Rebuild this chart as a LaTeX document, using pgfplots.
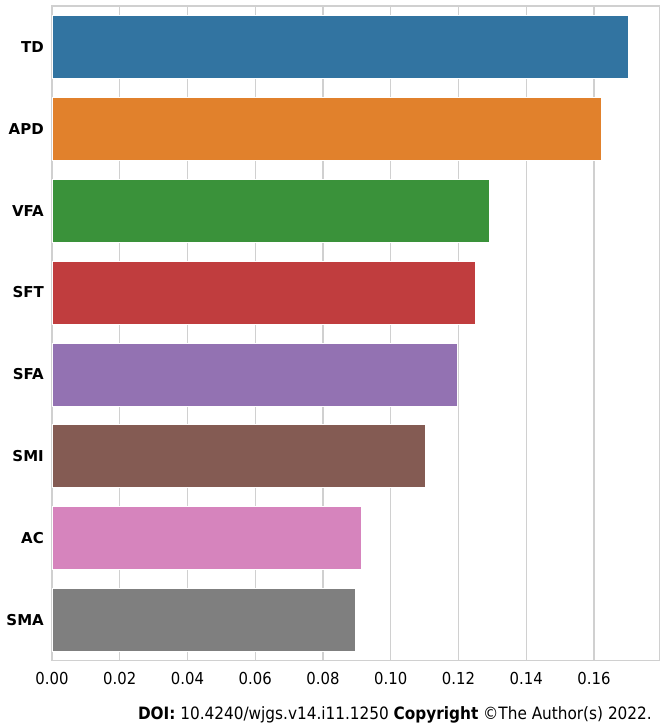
\documentclass[border=0pt]{standalone}
\usepackage{pgfplots}
\pgfplotsset{compat=1.18}
\usepackage{fontspec}
\setmainfont{DejaVu Sans Condensed}
\newfontfamily\labfont{DejaVu Sans}
\definecolor{cTD}{HTML}{3274A1}
\definecolor{cAPD}{HTML}{E1812C}
\definecolor{cVFA}{HTML}{3A923A}
\definecolor{cSFT}{HTML}{C03D3E}
\definecolor{cSFA}{HTML}{9372B2}
\definecolor{cSMI}{HTML}{845B53}
\definecolor{cAC}{HTML}{D684BD}
\definecolor{cSMA}{HTML}{7F7F7F}
\definecolor{gridc}{HTML}{D0D0D0}
\begin{document}
\begin{tikzpicture}
\begin{axis}[
  at={(0pt,0pt)}, anchor=south west,
  scale only axis,
  width=607.3pt, height=654.7pt,
  xbar, bar width=0.77, bar shift=0pt,
  xmin=0, xmax=0.1793,
  ymin=-0.5, ymax=7.5, y dir=reverse,
  ytick={0,1,2,3,4,5,6,7},
  yticklabels={TD,APD,VFA,SFT,SFA,SMI,AC,SMA},
  xtick={0,0.02,0.04,0.06,0.08,0.10,0.12,0.14,0.16},
  xticklabel style={/pgf/number format/fixed,/pgf/number format/fixed zerofill,/pgf/number format/precision=2,
     font=\fontsize{16.5}{19}\selectfont, inner sep=0pt, yshift=-11.6pt},
  /pgf/number format/assume math mode=true,
  yticklabel style={font=\labfont\fontsize{15}{18}\selectfont\bfseries, inner sep=0pt, xshift=-8pt},
  major tick length=0pt,
  xmajorgrids, ymajorgrids=false,
  grid style={gridc, line width=1.3pt},
  axis line style={gridc, line width=1.3pt},
  clip=false,
]
\addplot[fill=cTD, draw=white, line width=0.5pt] coordinates {(0.1702,0)};
\addplot[fill=cAPD, draw=white, line width=0.5pt] coordinates {(0.1621,1)};
\addplot[fill=cVFA, draw=white, line width=0.5pt] coordinates {(0.1291,2)};
\addplot[fill=cSFT, draw=white, line width=0.5pt] coordinates {(0.1250,3)};
\addplot[fill=cSFA, draw=white, line width=0.5pt] coordinates {(0.1195,4)};
\addplot[fill=cSMI, draw=white, line width=0.5pt] coordinates {(0.1101,5)};
\addplot[fill=cAC, draw=white, line width=0.5pt] coordinates {(0.0913,6)};
\addplot[fill=cSMA, draw=white, line width=0.5pt] coordinates {(0.0895,7)};
\end{axis}
\node[anchor=base east, inner sep=0pt, font=\fontsize{17}{19}\selectfont] at (600pt,-58.6pt)
  {\textbf{DOI:} 10.4240/wjgs.v14.i11.1250 \textbf{Copyright} ©The Author(s) 2022.};
\useasboundingbox (-52pt,-63.3pt) rectangle (610pt,660.7pt);
\end{tikzpicture}
\end{document}
